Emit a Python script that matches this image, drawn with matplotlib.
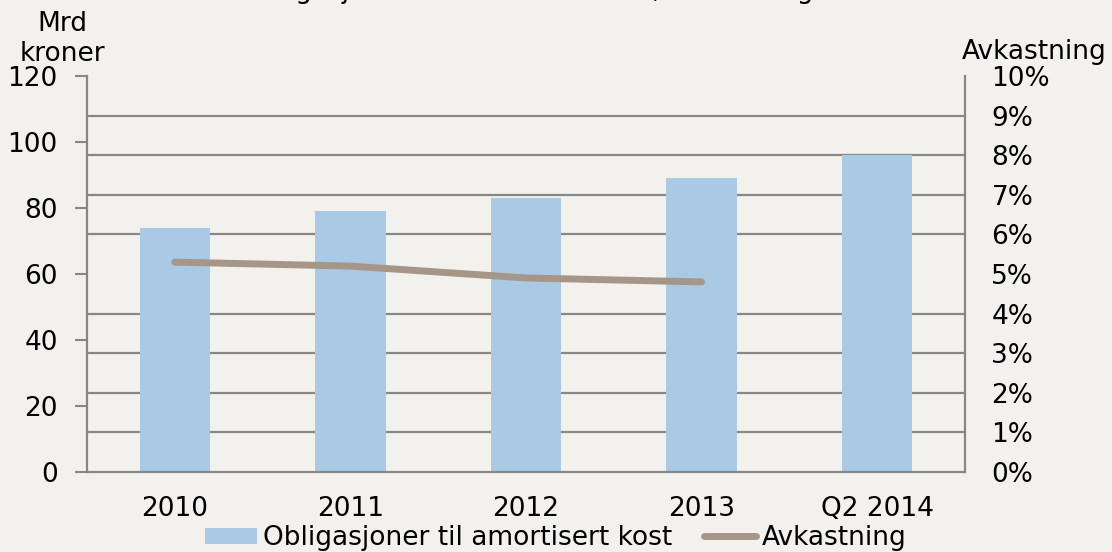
import matplotlib
matplotlib.use("Agg")
import matplotlib.pyplot as plt
import numpy as np

categories = ["2010", "2011", "2012", "2013", "Q2 2014"]
bonds = [74, 79, 83, 89, 96]            # Mrd kroner
returns_pct = [5.3, 5.2, 4.9, 4.8]      # Avkastning, %
left_ticks = [0, 20, 40, 60, 80, 100, 120]
right_ticks = [0, 1, 2, 3, 4, 5, 6, 7, 8, 9, 10]

plt.rcParams['font.family'] = ['DejaVu Sans']
FS = 19
BG = '#f3f1ee'
BAR = '#a9c9e5'
LINE = '#a59688'
GRID = '#878787'

fig = plt.figure(figsize=(11.12, 5.52), dpi=100, facecolor=BG)
ax = fig.add_axes([87/1112, 1-472/552, (965-87)/1112, (472-76)/552])
ax.set_facecolor(BG)

x = np.arange(len(categories))
bars = ax.bar(x, bonds, width=0.4, color=BAR, zorder=2, label='Obligasjoner til amortisert kost')
ax.set_xlim(-0.5, len(categories)-0.5)
ax.set_ylim(0, 120)
ax.set_yticks(left_ticks)
ax.set_yticklabels([str(t) for t in left_ticks])
# gridlines at right-axis tick positions
ax.set_yticks([t*12 for t in right_ticks], minor=True)
ax.yaxis.grid(True, which='minor', color=GRID, linewidth=1.6, zorder=0)
ax.set_axisbelow(True)
ax.tick_params(axis='y', which='minor', length=0)
ax.tick_params(axis='y', which='major', length=9, width=1.5, color=GRID, labelsize=FS, pad=12)
ax.set_xticks(x)
ax.set_xticklabels(categories)
ax.tick_params(axis='x', length=0, labelsize=FS, pad=17)
for s in ['left', 'right', 'bottom']:
    ax.spines[s].set_color(GRID)
    ax.spines[s].set_linewidth(1.6)
ax.spines['top'].set_visible(False)

ax2 = ax.twinx()
ax2.patch.set_visible(False)
line, = ax2.plot(x[:len(returns_pct)], [r/100 for r in returns_pct], color=LINE, linewidth=5,
                 solid_capstyle='round', zorder=3, label='Avkastning')
ax2.set_ylim(0, 0.10)
ax2.set_yticks([t/100 for t in right_ticks])
ax2.set_yticklabels([f"{t}%" for t in right_ticks])
ax2.tick_params(axis='y', length=0, labelsize=FS, pad=19)
for s in ax2.spines.values():
    s.set_visible(False)

fig.text(62/1112, 1-39/552, "Mrd\nkroner", ha='center', va='center', fontsize=FS, linespacing=1.2)
fig.text(1034/1112, 1-52/552, "Avkastning", ha='center', va='center', fontsize=FS)
fig.text(528/1112, 1+1.5/552, "Obligasjoner til amortisert kost, avkastning", ha='center', va='baseline', fontsize=FS)

leg = fig.legend(handles=[bars, line], loc='center left', bbox_to_anchor=(192/1112, 1-538/552), ncol=2,
                 frameon=False, fontsize=FS, handlelength=1.97, handletextpad=0.23, columnspacing=1.2,
                 borderpad=0, handleheight=0.56)

fig.savefig("out.png", dpi=100, facecolor=BG)
